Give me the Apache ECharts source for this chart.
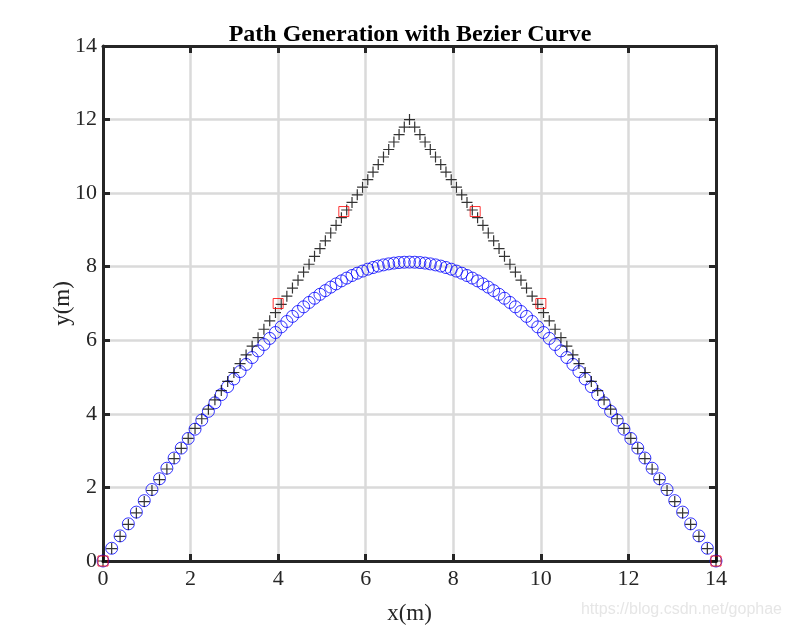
<!DOCTYPE html>
<html>
<head>
<meta charset="utf-8">
<script src="https://cdn.jsdelivr.net/npm/echarts@6/dist/echarts.min.js"></script>
<style>html,body{margin:0;padding:0;background:#fff;}#chart{width:792px;height:630px;}</style>
</head>
<body>
<div id="chart"></div>
<script>
// Sampled x positions shared by the Bezier curve and the straight path
var pathX = [0, 0.198, 0.390, 0.579, 0.762, 0.942, 1.118, 1.290, 1.459, 1.624, 1.787, 1.946, 2.102, 2.256, 2.407, 2.556, 2.702, 2.847, 2.989, 3.130, 3.268, 3.406, 3.541, 3.675, 3.808, 3.939, 4.070, 4.199, 4.327, 4.454, 4.581, 4.706, 4.831, 4.955, 5.078, 5.201, 5.323, 5.445, 5.566, 5.687, 5.807, 5.928, 6.047, 6.167, 6.286, 6.406, 6.525, 6.644, 6.762, 6.881, 7,
  7.119, 7.238, 7.356, 7.475, 7.594, 7.714, 7.833, 7.953, 8.072, 8.193, 8.313, 8.434, 8.555, 8.677, 8.799, 8.922, 9.045, 9.169, 9.294, 9.419, 9.546, 9.673, 9.801, 9.930, 10.061, 10.192, 10.325, 10.459, 10.594, 10.732, 10.870, 11.011, 11.153, 11.298, 11.444, 11.593, 11.744, 11.898, 12.054, 12.213, 12.376, 12.541, 12.710, 12.882, 13.058, 13.238, 13.421, 13.610, 13.802, 14];
// Bezier curve y values (blue circles)
var bezierY = [0, 0.346, 0.682, 1.010, 1.329, 1.640, 1.942, 2.236, 2.522, 2.799, 3.069, 3.331, 3.584, 3.831, 4.069, 4.300, 4.523, 4.739, 4.948, 5.150, 5.344, 5.531, 5.712, 5.885, 6.051, 6.211, 6.364, 6.510, 6.650, 6.783, 6.909, 7.029, 7.143, 7.250, 7.350, 7.445, 7.533, 7.615, 7.691, 7.761, 7.824, 7.881, 7.933, 7.978, 8.017, 8.050, 8.077, 8.098, 8.113, 8.122, 8.125,
  8.122, 8.113, 8.098, 8.077, 8.050, 8.017, 7.978, 7.933, 7.881, 7.824, 7.761, 7.691, 7.615, 7.533, 7.445, 7.350, 7.250, 7.143, 7.029, 6.909, 6.783, 6.650, 6.510, 6.364, 6.211, 6.051, 5.885, 5.712, 5.531, 5.344, 5.150, 4.948, 4.739, 4.523, 4.300, 4.069, 3.831, 3.584, 3.331, 3.069, 2.799, 2.522, 2.236, 1.942, 1.640, 1.329, 1.010, 0.682, 0.346, 0];
// Straight path y values (black plus markers)
var pathY = [0, 0.339, 0.669, 0.993, 1.306, 1.615, 1.917, 2.211, 2.501, 2.784, 3.063, 3.336, 3.603, 3.867, 4.126, 4.382, 4.632, 4.881, 5.124, 5.366, 5.602, 5.839, 6.070, 6.300, 6.528, 6.753, 6.977, 7.198, 7.418, 7.635, 7.853, 8.067, 8.282, 8.494, 8.705, 8.916, 9.125, 9.334, 9.542, 9.749, 9.955, 10.162, 10.366, 10.572, 10.776, 10.982, 11.186, 11.390, 11.592, 11.796, 12,
  11.796, 11.592, 11.390, 11.186, 10.982, 10.776, 10.572, 10.366, 10.162, 9.955, 9.749, 9.542, 9.334, 9.125, 8.916, 8.705, 8.494, 8.282, 8.067, 7.853, 7.635, 7.418, 7.198, 6.977, 6.753, 6.528, 6.300, 6.070, 5.839, 5.602, 5.366, 5.124, 4.881, 4.632, 4.382, 4.126, 3.867, 3.603, 3.336, 3.063, 2.784, 2.501, 2.211, 1.917, 1.615, 1.306, 0.993, 0.669, 0.339, 0];
// Waypoints (red squares)
var waypointX = [0, 4, 5.5, 8.5, 10, 14];
var waypointY = [0, 7, 9.5, 9.5, 7, 0];
// Axis ticks
var xTicks = [0, 2, 4, 6, 8, 10, 12, 14];
var yTicks = [0, 2, 4, 6, 8, 10, 12, 14];

function zip(a, b) { return a.map(function (v, i) { return [v, b[i]]; }); }

var AX = '#262626';
var FONT = '"Liberation Serif", "Times New Roman", serif';

function mkAxis(type, pos, show) {
  var t = type === 'x' ? xTicks : yTicks;
  return {
    type: 'value', position: pos, min: t[0], max: t[t.length - 1], interval: t[1] - t[0],
    nameMoveOverlap: false,
    axisLine: { show: true, onZero: false, lineStyle: { color: AX, width: 3 } },
    axisTick: { show: true, inside: true, length: 7, lineStyle: { color: AX, width: 3 } },
    axisLabel: { show: show, color: AX, fontFamily: FONT, fontSize: 22, margin: type === 'x' ? 7 : 6 },
    splitLine: { show: show, lineStyle: { color: '#dadada', width: 2.5 } }
  };
}

var chart = echarts.init(document.getElementById('chart'), null, { renderer: 'canvas' });
var xa = mkAxis('x', 'bottom', true);
xa.name = 'x(m)'; xa.nameLocation = 'middle'; xa.nameGap = 41;
xa.nameTextStyle = { fontFamily: FONT, fontSize: 23, color: AX };
var xb = mkAxis('x', 'top', false);
var ya = mkAxis('y', 'left', true);
ya.name = 'y(m)'; ya.nameLocation = 'middle'; ya.nameGap = 29;
ya.nameTextStyle = { fontFamily: FONT, fontSize: 23, color: AX };
var yb = mkAxis('y', 'right', false);

chart.setOption({
  animation: false,
  backgroundColor: '#ffffff',
  title: {
    text: 'Path Generation with Bezier Curve',
    left: 405, top: 18, textAlign: 'center',
    textStyle: { fontFamily: FONT, fontSize: 24, fontWeight: 'bold', color: '#000' }
  },
  grid: { left: 103, right: 76, top: 46, bottom: 69, containLabel: false },
  xAxis: [xa, xb],
  yAxis: [ya, yb],
  series: [
    {
      type: 'scatter', xAxisIndex: 0, yAxisIndex: 0,
      data: zip(pathX, bezierY),
      symbol: 'circle', symbolSize: 12,
      itemStyle: { color: 'rgba(0,0,0,0)', borderColor: '#0000ff', borderWidth: 1 },
      z: 3
    },
    {
      type: 'scatter', xAxisIndex: 0, yAxisIndex: 0,
      data: zip(pathX, pathY),
      symbol: 'path://M0,5 L10,5 M5,0 L5,10', symbolSize: 11,
      itemStyle: { color: 'rgba(0,0,0,0)', borderColor: '#000000', borderWidth: 1.2 },
      z: 4
    },
    {
      type: 'scatter', xAxisIndex: 0, yAxisIndex: 0,
      data: zip(waypointX, waypointY),
      symbol: 'rect', symbolSize: 10,
      itemStyle: { color: 'rgba(0,0,0,0)', borderColor: '#ff0000', borderWidth: 1 },
      z: 5
    }
  ],
  graphic: [{
    type: 'text', right: 10, top: 602,
    style: { text: 'https://blog.csdn.net/gophae', fill: '#e6e6e6', fontFamily: 'Arial, "Liberation Sans", sans-serif', fontSize: 16 }
  }]
});
</script>
</body>
</html>
